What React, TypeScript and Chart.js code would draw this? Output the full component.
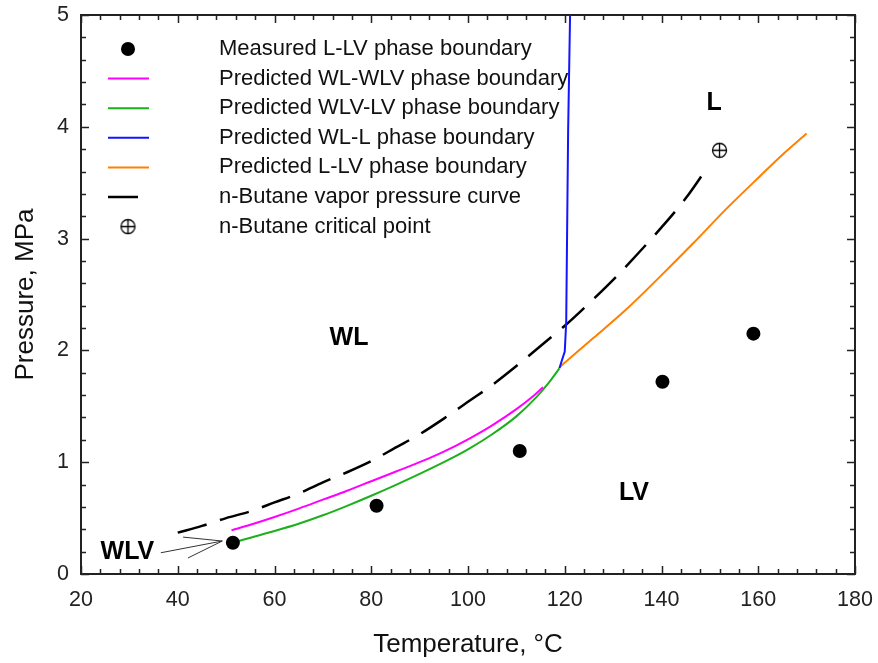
import { useEffect, useRef } from 'react';
import { Chart, registerables } from 'chart.js';

Chart.register(...registerables);

// ---------- data ----------
const MEASURED_T = [51.4, 81.1, 110.7, 140.2, 159.0];
const MEASURED_P = [0.28, 0.61, 1.1, 1.72, 2.15];

const WL_WLV_T = [51.1, 55, 60, 65, 70, 75, 80, 85, 90, 95, 100, 105, 110, 113, 115.5];
const WL_WLV_P = [0.39, 0.44, 0.51, 0.585, 0.665, 0.745, 0.83, 0.915, 1.0, 1.095, 1.205, 1.33, 1.475, 1.575, 1.67];

const WLV_LV_T = [51.4, 55, 60, 65, 70, 75, 80, 85, 90, 95, 100, 105, 110, 114, 116.5, 118.9];
const WLV_LV_P = [0.28, 0.325, 0.385, 0.45, 0.525, 0.61, 0.7, 0.795, 0.895, 1.0, 1.115, 1.25, 1.41, 1.575, 1.7, 1.84];

const WL_L_T = [118.9, 119.4, 120.0, 120.3, 120.7, 121.1];
const WL_L_P = [1.84, 1.91, 1.99, 2.25, 3.97, 5.0];

const L_LV_T = [118.9, 125.9, 132.8, 139.7, 146.6, 153.5, 160.4, 165, 170.0];
const L_LV_P = [1.85, 2.11, 2.37, 2.66, 2.96, 3.27, 3.56, 3.75, 3.94];

const VP_T = [40, 45, 50, 55, 60, 65, 70, 75, 80, 85, 90, 95, 100, 105, 110, 115, 120, 125, 130, 135, 140, 145, 149.7];
const VP_P = [0.37, 0.43, 0.5, 0.56, 0.64, 0.72, 0.82, 0.91, 1.01, 1.13, 1.25, 1.39, 1.54, 1.69, 1.86, 2.04, 2.22, 2.42, 2.63, 2.86, 3.1, 3.36, 3.65];

const CRIT_T = [152.0];
const CRIT_P = [3.79];

const SERIES_LABELS = [
  'Measured L-LV phase boundary',
  'Predicted WL-WLV phase boundary',
  'Predicted WLV-LV phase boundary',
  'Predicted WL-L phase boundary',
  'Predicted L-LV phase boundary',
  'n-Butane vapor pressure curve',
  'n-Butane critical point',
];

const REGION_LABELS = ['WL', 'L', 'LV', 'WLV'];
const REGION_T = [75.4, 150.9, 134.3, 29.6];
const REGION_P = [2.11, 4.21, 0.72, 0.2];

const ARROW_TIP_T = 49.2;
const ARROW_TIP_P = 0.295;
const ARROW_TAIL_T = [36.5, 41.1, 42.1];
const ARROW_TAIL_P = [0.19, 0.33, 0.143];

const X_MIN = 20, X_MAX = 180, X_STEP = 20, X_MINOR = 4;
const Y_MIN = 0, Y_MAX = 5, Y_STEP = 1, Y_MINOR = 0.2;

const FONT = "'Liberation Sans', Arial, sans-serif";

const pts = (xs: number[], ys: number[]) => xs.map((x, i) => ({ x, y: ys[i] }));

function makeCrossCircle(): HTMLCanvasElement {
  const c = document.createElement('canvas');
  c.width = 17;
  c.height = 17;
  const g = c.getContext('2d')!;
  g.strokeStyle = '#000';
  g.lineWidth = 1.3;
  g.beginPath();
  g.arc(8.5, 8.5, 7, 0, Math.PI * 2);
  g.stroke();
  g.beginPath();
  g.moveTo(1.5, 8.5);
  g.lineTo(15.5, 8.5);
  g.moveTo(8.5, 1.5);
  g.lineTo(8.5, 15.5);
  g.stroke();
  return c;
}

const framePlugin = {
  id: 'frameTicks',
  beforeDatasetsDraw(chart: any) {
    const { ctx, chartArea: a, scales } = chart;
    const xs = scales.x, ys = scales.y;
    ctx.save();
    ctx.strokeStyle = '#222';
    ctx.lineWidth = 1.5;
    const nx = Math.round((X_MAX - X_MIN) / X_MINOR);
    for (let i = 0; i <= nx; i++) {
      const v = X_MIN + i * X_MINOR;
      const major = Math.abs(v / X_STEP - Math.round(v / X_STEP)) < 1e-6;
      const len = major ? 8 : 5;
      const px = Math.round(xs.getPixelForValue(v)) + 0.5;
      ctx.beginPath();
      ctx.moveTo(px, a.bottom);
      ctx.lineTo(px, a.bottom - len);
      ctx.moveTo(px, a.top);
      ctx.lineTo(px, a.top + len);
      ctx.stroke();
    }
    const ny = Math.round((Y_MAX - Y_MIN) / Y_MINOR);
    for (let i = 0; i <= ny; i++) {
      const v = Y_MIN + i * Y_MINOR;
      const major = Math.abs(v / Y_STEP - Math.round(v / Y_STEP)) < 1e-6;
      const len = major ? 8 : 5;
      const py = Math.round(ys.getPixelForValue(v)) + 0.5;
      ctx.beginPath();
      ctx.moveTo(a.left, py);
      ctx.lineTo(a.left + len, py);
      ctx.moveTo(a.right, py);
      ctx.lineTo(a.right - len, py);
      ctx.stroke();
    }
    ctx.lineWidth = 2;
    ctx.strokeRect(a.left, a.top, a.right - a.left, a.bottom - a.top);
    ctx.restore();
  },
  afterDraw(chart: any) {
    const { ctx, chartArea: a, scales } = chart;
    const xs = scales.x, ys = scales.y;
    ctx.save();
    ctx.fillStyle = '#000';
    ctx.font = `bold 25px ${FONT}`;
    ctx.textAlign = 'center';
    ctx.textBaseline = 'middle';
    REGION_LABELS.forEach((t, i) => {
      ctx.fillText(t, xs.getPixelForValue(REGION_T[i]), ys.getPixelForValue(REGION_P[i]));
    });
    ctx.strokeStyle = '#333';
    ctx.lineWidth = 1;
    const tx = xs.getPixelForValue(ARROW_TIP_T), ty = ys.getPixelForValue(ARROW_TIP_P);
    ARROW_TAIL_T.forEach((t, i) => {
      ctx.beginPath();
      ctx.moveTo(xs.getPixelForValue(t), ys.getPixelForValue(ARROW_TAIL_P[i]));
      ctx.lineTo(tx, ty);
      ctx.stroke();
    });
    // legend
    const symX = a.left + 47;
    const lineX0 = a.left + 27, lineX1 = a.left + 68;
    const textX = a.left + 138;
    const y0 = a.top + 34;
    const dy = 29.6;
    ctx.font = `22px ${FONT}`;
    ctx.textAlign = 'left';
    chart.data.datasets.forEach((ds: any, i: number) => {
      const y = y0 + i * dy;
      ctx.save();
      if (ds.showLine) {
        ctx.strokeStyle = ds.borderColor;
        ctx.lineWidth = ds.borderWidth;
        ctx.setLineDash(ds.borderDash || []);
        ctx.beginPath();
        ctx.moveTo(lineX0, y);
        ctx.lineTo(lineX1, y);
        ctx.stroke();
      } else if (ds.pointStyle instanceof HTMLCanvasElement) {
        const img = ds.pointStyle;
        ctx.drawImage(img, symX - img.width / 2, y - img.height / 2);
      } else {
        ctx.fillStyle = ds.backgroundColor;
        ctx.beginPath();
        ctx.arc(symX, y, ds.pointRadius, 0, Math.PI * 2);
        ctx.fill();
      }
      ctx.restore();
      ctx.fillStyle = '#111';
      ctx.fillText(ds.label, textX, y);
    });
    ctx.restore();
  },
};

export default function App() {
  const ref = useRef<HTMLCanvasElement | null>(null);
  useEffect(() => {
    if (!ref.current) return;
    const line = (label: string, xs: number[], ys: number[], color: string, width: number, dash?: number[]) => ({
      label,
      data: pts(xs, ys),
      showLine: true,
      borderColor: color,
      backgroundColor: color,
      borderWidth: width,
      borderDash: dash,
      pointRadius: 0,
      tension: 0,
      cubicInterpolationMode: 'monotone',
    });
    const chart = new Chart(ref.current, {
      type: 'scatter',
      data: {
        datasets: [
          {
            label: SERIES_LABELS[0],
            data: pts(MEASURED_T, MEASURED_P),
            showLine: false,
            pointRadius: 7,
            backgroundColor: '#000',
            borderColor: '#000',
            borderWidth: 0,
          } as any,
          line(SERIES_LABELS[1], WL_WLV_T, WL_WLV_P, '#ff00ff', 2),
          line(SERIES_LABELS[2], WLV_LV_T, WLV_LV_P, '#1cb01c', 2),
          { ...line(SERIES_LABELS[3], WL_L_T, WL_L_P, '#1414ff', 2), cubicInterpolationMode: 'default' },
          line(SERIES_LABELS[4], L_LV_T, L_LV_P, '#ff8000', 2),
          line(SERIES_LABELS[5], VP_T, VP_P, '#000', 2.5, [30, 14]),
          {
            label: SERIES_LABELS[6],
            data: pts(CRIT_T, CRIT_P),
            showLine: false,
            pointStyle: makeCrossCircle(),
            pointRadius: 8,
          } as any,
        ],
      },
      options: {
        animation: false,
        responsive: false,
        events: [],
        layout: { padding: { left: 0, top: 15, right: 23, bottom: 0 } },
        plugins: { legend: { display: false }, tooltip: { enabled: false } },
        scales: {
          x: {
            type: 'linear',
            min: X_MIN,
            max: X_MAX,
            ticks: { stepSize: X_STEP, padding: 13, color: '#222', maxRotation: 0, font: { size: 21.5, family: FONT } },
            grid: { display: false, drawTicks: false },
            border: { display: false },
            title: { display: true, text: 'Temperature, °C', color: '#111', font: { size: 26, family: FONT }, padding: { top: 0, bottom: 3 } },
            afterFit: (s: any) => { s.height = 89; s.paddingLeft = 0; s.paddingRight = 0; },
          },
          y: {
            type: 'linear',
            min: Y_MIN,
            max: Y_MAX,
            ticks: { stepSize: Y_STEP, padding: 12, color: '#222', font: { size: 21.5, family: FONT } },
            grid: { display: false, drawTicks: false },
            border: { display: false },
            title: { display: true, text: 'Pressure, MPa', color: '#111', font: { size: 26, family: FONT }, padding: { top: 10, bottom: 0 } },
            afterFit: (s: any) => { s.width = 81; s.paddingTop = 0; s.paddingBottom = 0; },
          },
        },
      } as any,
      plugins: [framePlugin],
    });
    return () => chart.destroy();
  }, []);
  return (
    <div style={{ position: 'absolute', left: 0, top: 0, width: 878, height: 663, background: '#fff' }}>
      <canvas ref={ref} width={878} height={663} style={{ display: 'block' }} />
    </div>
  );
}
